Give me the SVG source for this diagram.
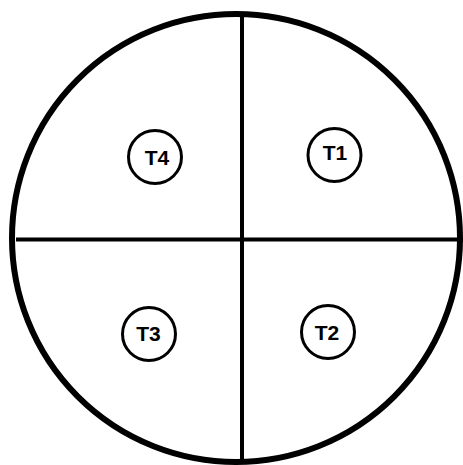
<svg xmlns="http://www.w3.org/2000/svg" width="463" height="465" viewBox="0 0 463 465">
<style>
.big{fill:none;stroke:#000;stroke-width:6}
.ln{stroke:#000;stroke-width:4}
.nc{fill:#fff;stroke:#000;stroke-width:3}
.lb{font-family:"Liberation Sans",Arial,sans-serif;font-weight:bold;font-size:21px;fill:#000;text-anchor:middle}
</style>
<g id="outer"><circle class="big" cx="236" cy="238" r="224"/></g>
<g id="connectors">
<line class="ln" x1="242" y1="16" x2="242" y2="463"/>
<line class="ln" x1="16" y1="239.5" x2="463" y2="239.5"/>
</g>
<g id="T4"><circle class="nc" cx="155" cy="157" r="26.5"/><text class="lb" x="157" y="165">T4</text></g>
<g id="T1"><circle class="nc" cx="334.5" cy="155" r="26.5"/><text class="lb" x="335" y="160">T1</text></g>
<g id="T3"><circle class="nc" cx="149" cy="334" r="26.5"/><text class="lb" x="148.5" y="341">T3</text></g>
<g id="T2"><circle class="nc" cx="328" cy="332" r="26.5"/><text class="lb" x="327" y="340">T2</text></g>
</svg>
